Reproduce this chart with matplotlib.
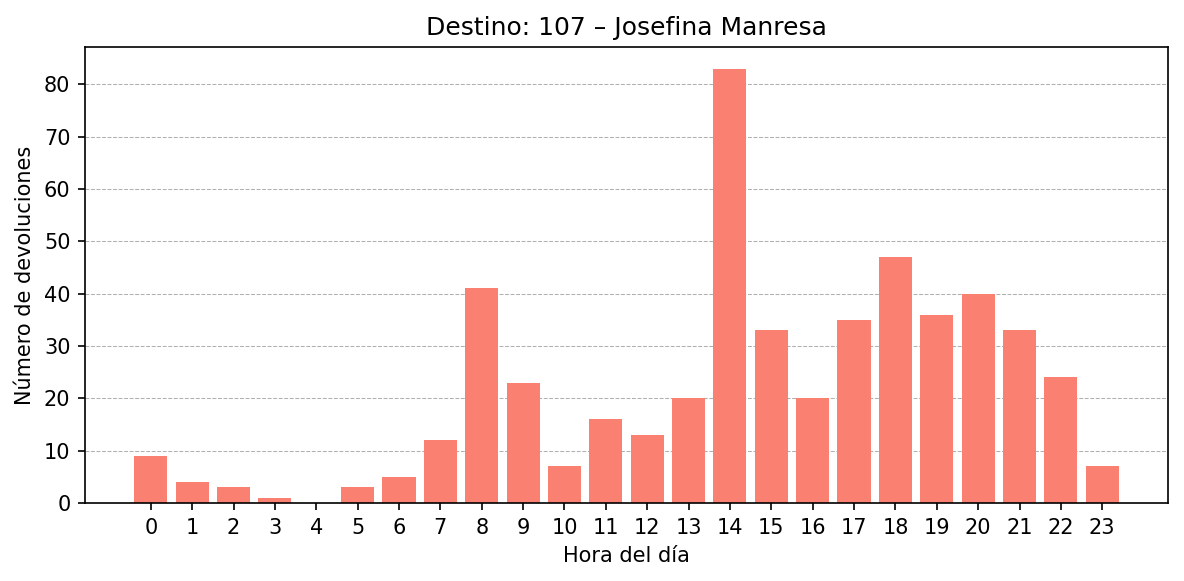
import matplotlib
matplotlib.use("Agg")
import matplotlib.pyplot as plt

horas = list(range(24))
devoluciones = [9, 4, 3, 1, 0, 3, 5, 12, 41, 23, 7, 16, 13, 20, 83, 33, 20, 35, 47, 36, 40, 33, 24, 7]

fig, ax = plt.subplots(figsize=(1184 / 150, 581 / 150), dpi=150)
ax.bar(horas, devoluciones, color="salmon")
ax.set_xticks(horas)
ax.set_title("Destino: 107 – Josefina Manresa")
ax.set_xlabel("Hora del día")
ax.set_ylabel("Número de devoluciones")
ax.grid(axis="y", linestyle="--", linewidth=0.5, color="#b0b0b0")
ax.set_axisbelow(True)
fig.subplots_adjust(left=0.0718, right=0.9865, top=0.919, bottom=0.1343)
fig.savefig("out.png", dpi=150)
